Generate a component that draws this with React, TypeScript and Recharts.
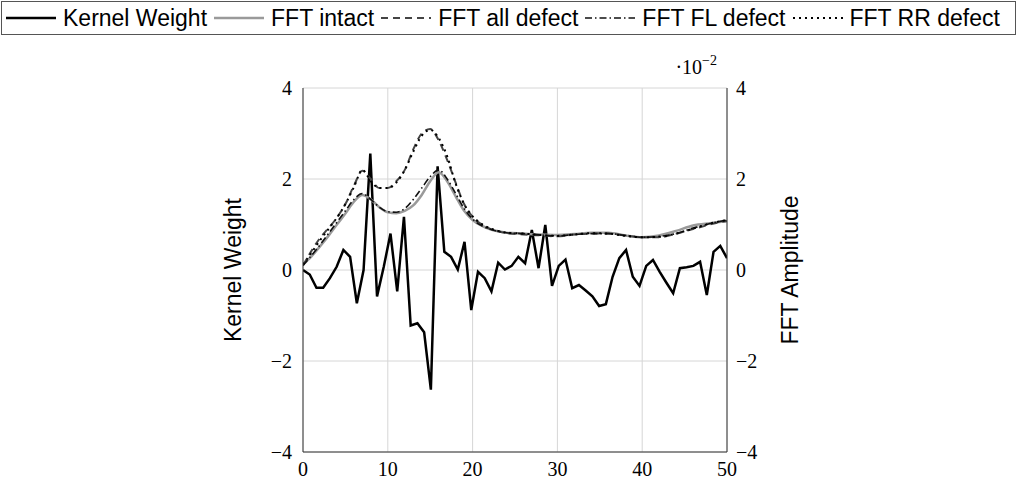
import { ComposedChart, Line, XAxis, YAxis, CartesianGrid, Label } from "recharts"

// kernel taps, evenly spread over 0..50 (64 taps)
const kernelWeight = [
  0, -0.1, -0.39, -0.39, -0.18, 0.07, 0.44, 0.29, -0.73, 0, 2.56, -0.58, 0.07, 0.8, -0.47, 1.17,
  -1.22, -1.17, -1.37, -2.63, 2.28, 0.4, 0.29, 0.01, 0.62, -0.88, -0.04, -0.18, -0.47, 0.16, 0.01, 0.09,
  0.29, 0.15, 0.88, 0.04, 0.99, -0.35, 0.09, 0.23, -0.4, -0.33, -0.45, -0.58, -0.79, -0.75, -0.15, 0.26,
  0.44, -0.15, -0.35, 0.09, 0.22, -0.04, -0.28, -0.51, 0.04, 0.06, 0.09, 0.18, -0.55, 0.4, 0.53, 0.26,
]
const kernelStep = 50 / (kernelWeight.length - 1)

// FFT amplitudes, in units of 10^-2
const fftX = [
  0, 1, 2, 3, 4, 5, 6, 7, 8, 9, 10, 11, 12, 13, 14, 15, 16, 17, 18, 19, 20, 21, 22, 23, 24,
  26, 28, 30, 32, 34, 36, 38, 40, 42, 44, 46, 48, 50,
]
const fftIntact = [
  0.12, 0.3, 0.52, 0.75, 1.0, 1.24, 1.5, 1.65, 1.55, 1.38, 1.27, 1.25, 1.3, 1.42, 1.65, 1.95, 2.15, 1.95, 1.62, 1.3, 1.1, 0.98, 0.9, 0.85, 0.82,
  0.8, 0.78, 0.77, 0.79, 0.82, 0.82, 0.76, 0.72, 0.76, 0.86, 0.98, 1.03, 1.07,
]
const fftAllDefect = [
  0.1, 0.42, 0.7, 0.92, 1.15, 1.45, 1.85, 2.18, 2.0, 1.8, 1.8, 1.95, 2.2, 2.65, 3.0, 3.1, 2.85, 2.42, 1.92, 1.45, 1.17, 1.01, 0.91, 0.85, 0.81,
  0.78, 0.76, 0.74, 0.78, 0.8, 0.8, 0.76, 0.72, 0.72, 0.8, 0.9, 1.0, 1.08,
]
const fftFLDefect = [
  0.1, 0.32, 0.55, 0.8, 1.05, 1.3, 1.55, 1.68, 1.55, 1.38, 1.28, 1.27, 1.35, 1.55, 1.8, 2.05, 2.2, 2.0, 1.68, 1.35, 1.12, 0.98, 0.9, 0.85, 0.82,
  0.8, 0.77, 0.75, 0.78, 0.8, 0.8, 0.76, 0.72, 0.74, 0.8, 0.92, 1.02, 1.1,
]
const fftRRDefect = [
  0.12, 0.38, 0.65, 0.9, 1.15, 1.45, 1.82, 2.2, 1.95, 1.8, 1.8, 1.92, 2.2, 2.6, 2.95, 3.08, 2.9, 2.5, 1.9, 1.45, 1.18, 1.02, 0.92, 0.86, 0.82,
  0.8, 0.77, 0.75, 0.78, 0.81, 0.8, 0.75, 0.72, 0.73, 0.8, 0.91, 1.02, 1.1,
]

const xTicks = [0, 10, 20, 30, 40, 50]
const yTicks = [-4, -2, 0, 2, 4]

const kernelData = kernelWeight.map((v, i) => ({ x: i * kernelStep, kernel: v }))
const fftData = fftX.map((x, i) => ({
  x,
  intact: fftIntact[i],
  all: fftAllDefect[i],
  fl: fftFLDefect[i],
  rr: fftRRDefect[i],
}))

const series = [
  { name: "Kernel Weight", color: "#000", width: 2.5, dash: undefined as string | undefined },
  { name: "FFT intact", color: "#9a9a9a", width: 2.5, dash: undefined },
  { name: "FFT all defect", color: "#444", width: 2, dash: "7 5" },
  { name: "FFT FL defect", color: "#111", width: 1.6, dash: "7 3 1.5 3" },
  { name: "FFT RR defect", color: "#000", width: 2, dash: "2 4" },
]

const sans = '"Liberation Sans", Arial, sans-serif'
const serif = '"Liberation Serif", "Times New Roman", serif'
const minus = (v: number) => String(v).replace("-", "\u2212")
const tickStyle = { fontFamily: serif, fontSize: 20, fill: "#000" }

const App = () => {
  return (
    <div style={{ position: "absolute", left: 0, top: 0, width: 1018, height: 484, background: "#fff" }}>
      <div
        style={{
          position: "absolute",
          left: 1,
          top: 1,
          width: 1015,
          height: 34,
          boxSizing: "border-box",
          border: "1px solid #555",
          display: "flex",
          alignItems: "center",
          paddingLeft: 4,
          fontFamily: sans,
          fontSize: 23,
          whiteSpace: "nowrap",
        }}
      >
        {series.map((s) => (
          <span key={s.name} style={{ display: "inline-flex", alignItems: "center" }}>
            <svg width={50} height={10}>
              <line x1={0} x2={50} y1={5} y2={5} stroke={s.color} strokeWidth={s.width} strokeDasharray={s.dash} />
            </svg>
            <span style={{ marginLeft: 7, marginRight: 7 }}>{s.name}</span>
          </span>
        ))}
      </div>
      <ComposedChart width={1018} height={484} margin={{ top: 88, right: 211, bottom: 2, left: 223 }}>
        <CartesianGrid yAxisId="left" stroke="#d6d6d6" strokeWidth={1} horizontalValues={yTicks} verticalValues={xTicks} />
        <XAxis
          dataKey="x"
          type="number"
          domain={[0, 50]}
          ticks={xTicks}
          allowDataOverflow
          height={30}
          tickSize={0}
          tickMargin={10}
          tick={tickStyle}
          axisLine={{ stroke: "#333" }}
        />
        <XAxis xAxisId="top" orientation="top" type="number" domain={[0, 50]} height={0} tick={false} tickLine={false} axisLine={{ stroke: "#333" }} />
        <YAxis
          yAxisId="left"
          type="number"
          domain={[-4, 4]}
          ticks={yTicks}
          width={80}
          tickSize={0}
          tickMargin={11}
          tick={tickStyle}
          tickFormatter={minus}
          axisLine={{ stroke: "#333" }}
        >
          <Label
            content={(props: any) => {
              const vb = props.viewBox || { x: 223, y: 88, width: 80, height: 364 }
              const cx = vb.x + 10
              const cy = vb.y + vb.height / 2
              return (
                <text x={cx} y={cy} transform={`rotate(-90 ${cx} ${cy})`} textAnchor="middle" dominantBaseline="central" fontFamily={sans} fontSize={23} fill="#000">
                  Kernel Weight
                </text>
              )
            }}
          />
        </YAxis>
        <YAxis
          yAxisId="right"
          orientation="right"
          type="number"
          domain={[-4, 4]}
          ticks={yTicks}
          width={80}
          tickSize={0}
          tickMargin={9}
          tick={tickStyle}
          tickFormatter={minus}
          axisLine={{ stroke: "#333" }}
        >
          <Label
            content={(props: any) => {
              const vb = props.viewBox || { x: 727, y: 88, width: 80, height: 364 }
              const cx = vb.x + 63
              const cy = vb.y + vb.height / 2
              return (
                <text x={cx} y={cy} transform={`rotate(-90 ${cx} ${cy})`} textAnchor="middle" dominantBaseline="central" fontFamily={sans} fontSize={23} fill="#000">
                  FFT Amplitude
                </text>
              )
            }}
          />
          <Label
            content={(props: any) => {
              const vb = props.viewBox || { x: 727, y: 88, width: 80, height: 364 }
              return (
                <text x={vb.x - 10} y={vb.y - 14} textAnchor="end" fontFamily={serif} fontSize={20} fill="#000">
                  {"\u00b710"}
                  <tspan dy={-9} fontSize={14}>
                    {"\u22122"}
                  </tspan>
                </text>
              )
            }}
          />
        </YAxis>
        <Line
          yAxisId="left"
          data={kernelData}
          dataKey="kernel"
          type="linear"
          stroke={series[0].color}
          strokeWidth={series[0].width}
          dot={false}
          isAnimationActive={false}
        />
        <Line yAxisId="right" data={fftData} dataKey="intact" type="monotone" stroke={series[1].color} strokeWidth={series[1].width} dot={false} isAnimationActive={false} />
        <Line yAxisId="right" data={fftData} dataKey="all" type="monotone" stroke={series[2].color} strokeWidth={series[2].width} strokeDasharray={series[2].dash} dot={false} isAnimationActive={false} />
        <Line yAxisId="right" data={fftData} dataKey="fl" type="monotone" stroke={series[3].color} strokeWidth={series[3].width} strokeDasharray={series[3].dash} dot={false} isAnimationActive={false} />
        <Line yAxisId="right" data={fftData} dataKey="rr" type="monotone" stroke={series[4].color} strokeWidth={series[4].width} strokeDasharray={series[4].dash} dot={false} isAnimationActive={false} />
      </ComposedChart>
    </div>
  )
}

export default App
